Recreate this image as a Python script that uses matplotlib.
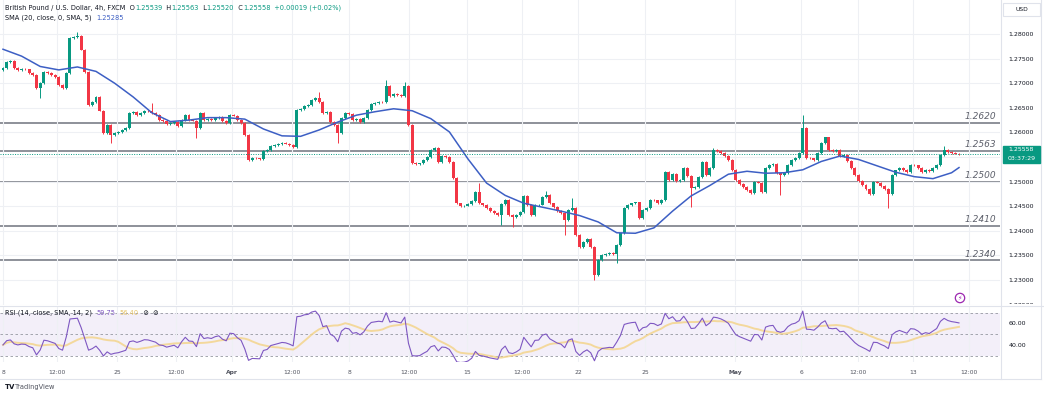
import matplotlib
matplotlib.use("Agg")
import matplotlib.pyplot as plt
from matplotlib.patches import Rectangle
from matplotlib.lines import Line2D
from matplotlib.transforms import blended_transform_factory, Bbox, TransformedBbox
import numpy as np
import pandas as pd

plt.rcParams['font.family'] = ['DejaVu Sans']

# ---- data (GBP/USD, 4h bars) ----
first_open = 1.2727
closes = [
    1.2731, 1.2743, 1.2745, 1.2731, 1.2727, 1.2729, 1.2728, 1.2721, 1.2717, 1.2690,
    1.2700, 1.2723, 1.2721, 1.2717, 1.2713, 1.2696, 1.2690, 1.2721, 1.2792, 1.2794,
    1.2796, 1.2768, 1.2723, 1.2656, 1.2662, 1.2672, 1.2644, 1.2599, 1.2615, 1.2595,
    1.2599, 1.2601, 1.2605, 1.2609, 1.2639, 1.2642, 1.2635, 1.2639, 1.2644, 1.2643,
    1.2639, 1.2635, 1.2625, 1.2623, 1.2617, 1.2619, 1.2621, 1.2613, 1.2625, 1.2635,
    1.2625, 1.2624, 1.2609, 1.2639, 1.2625, 1.2627, 1.2625, 1.2629, 1.2631, 1.2623,
    1.2619, 1.2635, 1.2634, 1.2625, 1.2619, 1.2595, 1.2544, 1.2548, 1.2547, 1.2546,
    1.2562, 1.2564, 1.2572, 1.2574, 1.2576, 1.2578, 1.2577, 1.2574, 1.2570, 1.2646,
    1.2648, 1.2654, 1.2656, 1.2666, 1.2670, 1.2662, 1.2639, 1.2642, 1.2621, 1.2615,
    1.2599, 1.2629, 1.2639, 1.2637, 1.2625, 1.2627, 1.2621, 1.2629, 1.2646, 1.2658,
    1.2660, 1.2662, 1.2661, 1.2694, 1.2674, 1.2678, 1.2676, 1.2674, 1.2694, 1.2615,
    1.2538, 1.2536, 1.2537, 1.2544, 1.2550, 1.2564, 1.2568, 1.2540, 1.2552, 1.2550,
    1.2540, 1.2507, 1.2456, 1.2450, 1.2451, 1.2454, 1.2461, 1.2479, 1.2456, 1.2452,
    1.2446, 1.2440, 1.2436, 1.2432, 1.2454, 1.2463, 1.2432, 1.2428, 1.2432, 1.2438,
    1.2471, 1.2452, 1.2432, 1.2452, 1.2453, 1.2469, 1.2473, 1.2456, 1.2448, 1.2440,
    1.2436, 1.2422, 1.2442, 1.2446, 1.2391, 1.2367, 1.2377, 1.2383, 1.2367, 1.2310,
    1.2341, 1.2351, 1.2353, 1.2355, 1.2353, 1.2371, 1.2395, 1.2446, 1.2452, 1.2456,
    1.2458, 1.2426, 1.2442, 1.2446, 1.2463, 1.2462, 1.2456, 1.2463, 1.2520, 1.2503,
    1.2515, 1.2501, 1.2503, 1.2528, 1.2511, 1.2487, 1.2489, 1.2509, 1.2540, 1.2513,
    1.2528, 1.2564, 1.2562, 1.2558, 1.2552, 1.2544, 1.2524, 1.2503, 1.2495, 1.2489,
    1.2483, 1.2477, 1.2499, 1.2498, 1.2479, 1.2528, 1.2534, 1.2536, 1.2517, 1.2513,
    1.2517, 1.2534, 1.2544, 1.2548, 1.2558, 1.2609, 1.2548, 1.2547, 1.2544, 1.2558,
    1.2578, 1.2590, 1.2564, 1.2562, 1.2564, 1.2552, 1.2554, 1.2542, 1.2528, 1.2513,
    1.2501, 1.2493, 1.2485, 1.2475, 1.2499, 1.2498, 1.2491, 1.2485, 1.2475, 1.2513,
    1.2523, 1.2528, 1.2524, 1.2520, 1.2534, 1.2533, 1.2528, 1.2520, 1.2524, 1.2522,
    1.2528, 1.2534, 1.2554, 1.2564, 1.2560, 1.2558, 1.2557, 1.25558,
]
# long wicks that stand out (bar index -> price)
wick_high = {20: 1.2804, 40: 1.2660, 85: 1.2682, 103: 1.2706, 108: 1.2702, 128: 1.2497,
             146: 1.2481, 153: 1.2467, 191: 1.2568, 215: 1.2635, 253: 1.2572}
wick_low = {10: 1.2670, 29: 1.2578, 52: 1.2589, 90: 1.2578, 134: 1.2412, 137: 1.2408,
            151: 1.2391, 159: 1.2300, 165: 1.2335, 185: 1.2448, 209: 1.2473, 238: 1.2446}

# SMA(20) read every 5 bars, last value on the final bar
sma20 = [1.2769, 1.2755, 1.2734, 1.2727, 1.2733, 1.2724, 1.2700, 1.2672, 1.2640, 1.2622,
         1.2625, 1.2630, 1.2630, 1.2627, 1.2607, 1.2593, 1.2592, 1.2605, 1.2621, 1.2635,
         1.2642, 1.2648, 1.2644, 1.2628, 1.2601, 1.2546, 1.2497, 1.2472, 1.2456, 1.2448,
         1.2440, 1.2431, 1.2418, 1.2396, 1.2395, 1.2406, 1.2440, 1.2471, 1.2492, 1.2515,
         1.2521, 1.2517, 1.2518, 1.2524, 1.2541, 1.2552, 1.2545, 1.2532, 1.2519, 1.2510,
         1.2506, 1.2518, 1.25285]

levels = [1.2620, 1.2563, 1.2500, 1.2410, 1.2340]
level_labels = ["1.2620", "1.2563", "1.2500", "1.2410", "1.2340"]
last_price = 1.25558
price_ticks = [1.225, 1.230, 1.235, 1.240, 1.245, 1.250, 1.255, 1.260, 1.265, 1.270, 1.275, 1.280]
rsi_ticks = [40, 60]
rsi_start = 40      # RSI level at the left edge of the chart
x_labels = ["8", "12:00", "25", "12:00", "Apr", "12:00", "8", "12:00", "15", "12:00",
            "22", "25", "May", "6", "12:00", "13", "12:00"]

# ---- layout in pixels ----
W, H = 1044, 393
PANE_R = 1000
X0 = 3
STEP = 956 / (len(closes) - 1)
x_label_px = [3, 57, 117, 176, 232, 292, 349, 409, 467, 522, 578, 645, 735, 801, 858, 913, 969]
PRICE_TOP, PRICE_BOT = 1.28691, 1.22492

GREEN = '#089981'
RED = '#f23645'
GRID = '#eef0f4'
TXT = '#131722'
BORDER = '#e0e3eb'


def px2bar(px):
    return (px - X0) / STEP


fig = plt.figure(figsize=(W / 100, H / 100), dpi=100)
ax = fig.add_axes([0, 1 - 305 / H, PANE_R / W, 305 / H])
ar = fig.add_axes([0, 1 - 362 / H, PANE_R / W, 55 / H])

for a in (ax, ar):
    a.set_xlim(px2bar(0), px2bar(PANE_R))
    for s in a.spines.values():
        s.set_visible(False)
    a.set_xticks([px2bar(p) for p in x_label_px])
    a.grid(axis='x', color=GRID, lw=0.8, zorder=0)
    a.yaxis.tick_right()
    a.tick_params(length=0)

# ---- price pane ----
ax.set_ylim(PRICE_BOT, PRICE_TOP)
ax.set_yticks(price_ticks)
ax.set_yticklabels([f"{v:.5f}" for v in price_ticks])
ax.tick_params(axis='y', pad=6, labelsize=4.5, labelcolor=TXT)
ax.grid(axis='y', color=GRID, lw=0.8, zorder=0)
ax.set_xticklabels([])
# the lowest price label is cut by the RSI pane, as in the screenshot
pane_clip = TransformedBbox(Bbox.from_extents(0, 1 - 304 / H, 1, 1), fig.transFigure)
for t in ax.get_yticklabels():
    t.set_clip_on(True)
    t.set_clip_box(pane_clip)

n = len(closes)
idx = np.arange(n)
c = np.array(closes)
o = np.concatenate([[first_open], c[:-1]])
body_lo = np.minimum(o, c)
body_hi = np.maximum(o, c)
hi = body_hi + 0.00015
lo = body_lo - 0.00015
for k, v in wick_high.items():
    hi[k] = v
for k, v in wick_low.items():
    lo[k] = v
cols = np.where(c >= o, GREEN, RED)

for lv in levels:
    ax.axhline(lv, color='#858891', lw=1.3, zorder=1.5)

ax.vlines(idx, lo, hi, colors=cols, lw=0.7, zorder=2)
ax.bar(idx, np.maximum(body_hi - body_lo, 0.00006), bottom=body_lo, width=0.8,
       color=cols, linewidth=0, zorder=2.5)

sma_x = np.append(np.arange(0, 5 * (len(sma20) - 1), 5), n - 1)
ax.plot(sma_x, sma20, color='#3d5fc4', lw=1.1, zorder=3)

ax.axhline(last_price, color=GREEN, lw=0.7, ls=(0, (1, 1.5)), zorder=3)

lab_tr = blended_transform_factory(ax.transAxes, ax.transData)
for lv, lab in zip(levels, level_labels):
    ax.annotate(lab, xy=(996 / PANE_R, lv), xycoords=lab_tr, xytext=(0, 4.5),
                textcoords='offset points', ha='right', va='center', fontsize=6.5,
                style='italic', color='#5d606b')

# last price tag on the price scale
tag_tr = blended_transform_factory(fig.transFigure, ax.transData)
tag_h = 17 * (PRICE_TOP - PRICE_BOT) / 305
fig.add_artist(Rectangle((1003 / W, last_price - tag_h / 2), 37 / W, tag_h,
                         transform=tag_tr, color=GREEN, clip_on=False, zorder=4))
for txt, dy in [(f"{last_price:.5f}", 0.26), ("03:37:29", -0.24)]:
    fig.text(1021.5 / W, last_price + dy * tag_h, txt, transform=tag_tr, ha='center',
             va='center', fontsize=4.5, color='white', zorder=5)

# ---- RSI pane ----
d = pd.Series(closes).diff()
avg_move = d.abs().mean()
gain = d.clip(lower=0)
loss = (-d).clip(lower=0)
gain.iloc[0] = avg_move * rsi_start / 100
loss.iloc[0] = avg_move * (1 - rsi_start / 100)
ag = gain.ewm(alpha=1 / 14, adjust=False).mean()
al = loss.ewm(alpha=1 / 14, adjust=False).mean()
rsi = 100 - 100 / (1 + ag / al)
rsi_ma = rsi.rolling(14, min_periods=1).mean()

ar.set_ylim(24.1, 75.3)
ar.axhspan(30, 70, color='#7e57c2', alpha=0.09, lw=0, zorder=0.5)
for lv in (30, 50, 70):
    ar.axhline(lv, color='#9598a1', lw=0.6, ls=(0, (3, 3)), zorder=1)
ar.plot(idx, rsi_ma, color='#f3d58c', lw=1.4, alpha=0.85, zorder=2)
ar.plot(idx, rsi, color='#7e57c2', lw=0.8, zorder=3)
ar.set_yticks(rsi_ticks)
ar.set_yticklabels([f"{v:.2f}" for v in rsi_ticks])
ar.tick_params(axis='y', pad=6, labelsize=4.5, labelcolor=TXT)
ar.set_xticklabels(x_labels)
ar.tick_params(axis='x', pad=6, labelsize=4.3, labelcolor='#50535e')
for t in ar.get_xticklabels():
    if t.get_text() in ("Apr", "May"):
        t.set_fontweight('bold')

# ---- header texts ----
renderer = fig.canvas.get_renderer()


def pieces(x_px, y_px, parts, size):
    x = x_px
    for txt, col in parts:
        t = fig.text(x / W, 1 - y_px / H, txt, color=col, fontsize=size, va='center', ha='left')
        x += t.get_window_extent(renderer).width


pieces(5, 8, [("British Pound / U.S. Dollar, 4h, FXCM  O", TXT), ("1.25539", GREEN),
              ("  H", TXT), ("1.25563", GREEN), ("  L", TXT), ("1.25520", GREEN),
              ("  C", TXT), ("1.25558", GREEN), ("  +0.00019 (+0.02%)", GREEN)], 4.8)
pieces(5, 18, [("SMA (20, close, 0, SMA, 5)  ", TXT), ("1.25285", '#3d5fc4')], 4.8)
pieces(5, 313, [("RSI (14, close, SMA, 14, 2)  ", TXT), ("59.75", '#7e57c2'), ("  ", TXT),
                ("56.40", '#e5c36a'), ("  \u2298  \u2298", TXT)], 4.8)

# currency box
fig.add_artist(Rectangle((1003 / W, 1 - 16 / H), 37 / W, 13 / H, transform=fig.transFigure,
                         fc='white', ec=BORDER, lw=0.8))
fig.text(1021.5 / W, 1 - 9.5 / H, "USD", ha='center', va='center', fontsize=4.3, color=TXT)

# event marker
fig.text(960 / W, 1 - 298 / H, "\u26a1", ha='center', va='center', fontsize=4.5, color='#9c27b0',
         bbox=dict(boxstyle='circle,pad=0.35', fc='white', ec='#9c27b0', lw=0.9))

# frame lines
for xs, ys in [((0, 1), (306, 306)), ((0, 1041 / W), (379, 379)),
               ((1001 / W, 1001 / W), (0, 379)), ((1041 / W, 1041 / W), (0, 379))]:
    fig.add_artist(Line2D(xs, [1 - y / H for y in ys], transform=fig.transFigure,
                          color=BORDER, lw=0.8))

# TradingView logo
fig.text(5 / W, 1 - 387 / H, "TV", fontsize=5, fontweight='bold', color=TXT, va='center')
fig.text(15 / W, 1 - 387 / H, "TradingView", fontsize=4.8, color='#50535e', va='center')

fig.savefig('out.png', dpi=100)
